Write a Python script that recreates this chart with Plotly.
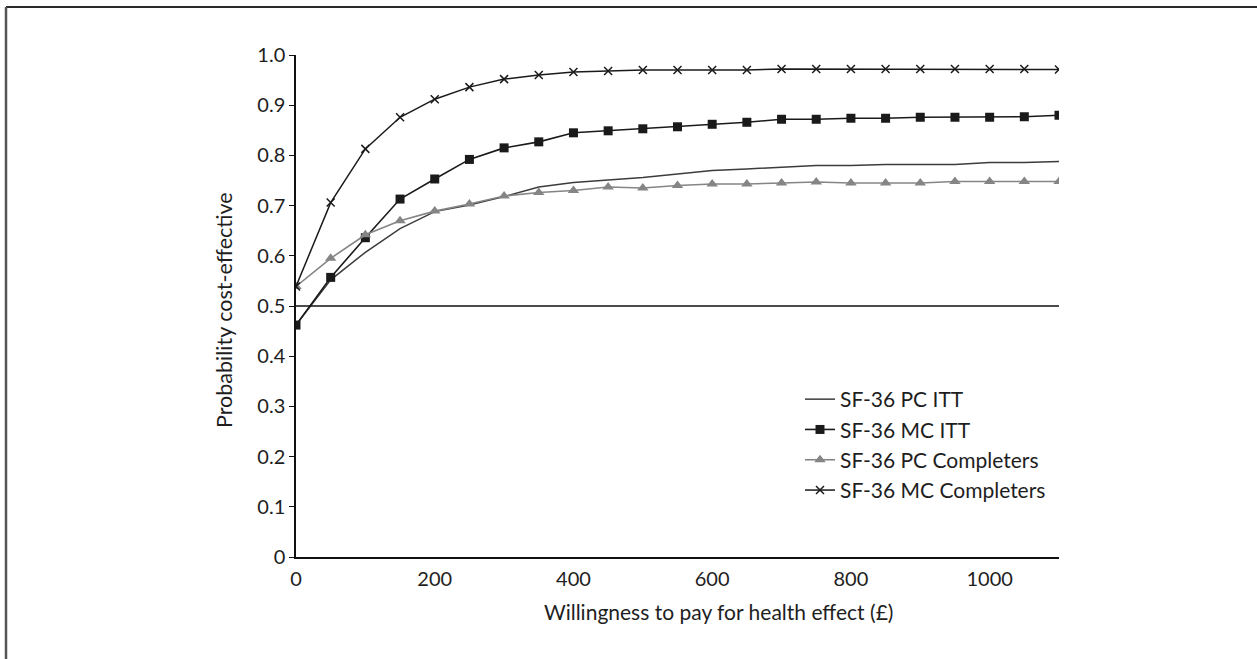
import plotly.graph_objects as go

# Willingness-to-pay thresholds (£)
wtp = [0, 50, 100, 150, 200, 250, 300, 350, 400, 450, 500, 550,
       600, 650, 700, 750, 800, 850, 900, 950, 1000, 1050, 1100]

# Probability that the intervention is cost-effective at each threshold
pc_itt = [0.462, 0.552, 0.607, 0.654, 0.688, 0.701, 0.718, 0.737, 0.746, 0.751, 0.756, 0.763,
          0.770, 0.773, 0.777, 0.780, 0.780, 0.782, 0.782, 0.782, 0.786, 0.786, 0.788]
mc_itt = [0.462, 0.557, 0.636, 0.713, 0.753, 0.792, 0.815, 0.827, 0.845, 0.849, 0.853, 0.857,
          0.862, 0.866, 0.872, 0.872, 0.874, 0.874, 0.876, 0.876, 0.876, 0.877, 0.880]
pc_completers = [0.539, 0.595, 0.642, 0.670, 0.689, 0.703, 0.719, 0.726, 0.730, 0.737, 0.735, 0.740,
                 0.743, 0.743, 0.745, 0.747, 0.745, 0.745, 0.745, 0.748, 0.748, 0.748, 0.748]
mc_completers = [0.539, 0.706, 0.813, 0.876, 0.912, 0.936, 0.952, 0.960, 0.966, 0.968, 0.970, 0.970,
                 0.970, 0.970, 0.972, 0.972, 0.972, 0.972, 0.972, 0.972, 0.972, 0.972, 0.971]

series_names = ["SF-36 PC ITT", "SF-36 MC ITT", "SF-36 PC Completers", "SF-36 MC Completers"]

threshold = 0.5

y_tickvals = [0, 0.1, 0.2, 0.3, 0.4, 0.5, 0.6, 0.7, 0.8, 0.9, 1.0]
y_ticktext = ["0", "0.1", "0.2", "0.3", "0.4", "0.5", "0.6", "0.7", "0.8", "0.9", "1.0"]
x_tickvals = [0, 200, 400, 600, 800, 1000]

x_title = "Willingness to pay for health effect (£)"
y_title = "Probability cost-effective"

FONT = "Lato, 'Open Sans', sans-serif"
TEXT = "#1e1e1e"
W, H = 1257, 659
L, R, T, B = 296, 198, 55, 102

fig = go.Figure()

fig.add_trace(go.Scatter(
    x=wtp, y=pc_itt, name=series_names[0], mode="lines",
    line=dict(color="#3c3c3c", width=1.5),
))
fig.add_trace(go.Scatter(
    x=wtp, y=mc_itt, name=series_names[1], mode="lines+markers",
    line=dict(color="#1a1a1a", width=1.6),
    marker=dict(symbol="square", size=9, color="#1a1a1a"),
))
fig.add_trace(go.Scatter(
    x=wtp, y=pc_completers, name=series_names[2], mode="lines+markers",
    line=dict(color="#858585", width=1.6),
    marker=dict(symbol="triangle-up", size=10, color="#858585"),
))
fig.add_trace(go.Scatter(
    x=wtp, y=mc_completers, name=series_names[3], mode="lines+markers",
    line=dict(color="#1a1a1a", width=1.5),
    marker=dict(symbol="x-thin", size=8, color="#1a1a1a",
                line=dict(color="#1a1a1a", width=1.5)),
))

# 0.5 reference line across the plotting range
fig.add_shape(type="line", xref="x", yref="y", x0=wtp[0], x1=wtp[-1],
              y0=threshold, y1=threshold, line=dict(color="#111111", width=1.5))

# Outer frame (top and left edges)
px = lambda p: (p - L) / (W - L - R)
py = lambda p: (H - B - p) / (H - T - B)
fig.add_shape(type="line", xref="paper", yref="paper", x0=px(6), x1=px(1300),
              y0=py(7), y1=py(7), line=dict(color="#2a2a2a", width=2))
fig.add_shape(type="line", xref="paper", yref="paper", x0=px(6), x1=px(6),
              y0=py(7), y1=py(700), line=dict(color="#555555", width=2.5))

fig.add_annotation(text=x_title, xref="paper", yref="paper",
                   x=px(718), y=py(611), showarrow=False,
                   font=dict(family=FONT, size=21, color=TEXT),
                   xanchor="center", yanchor="middle")
fig.add_annotation(text=y_title, xref="paper", yref="paper",
                   x=px(224), y=py(310), showarrow=False, textangle=-90,
                   font=dict(family=FONT, size=21.5, color=TEXT),
                   xanchor="center", yanchor="middle")

fig.update_layout(
    width=W, height=H,
    margin=dict(l=L, r=R, t=T, b=B),
    paper_bgcolor="white", plot_bgcolor="white",
    font=dict(family=FONT, size=20, color=TEXT),
    showlegend=True,
    legend=dict(x=px(800), y=py(379), xanchor="left", yanchor="top",
                bgcolor="rgba(0,0,0,0)", traceorder="normal", itemwidth=30,
                font=dict(family=FONT, size=21, color=TEXT)),
    xaxis=dict(range=[0, 1100], tickvals=x_tickvals, showgrid=False, zeroline=False,
               showline=True, linecolor="#111111", linewidth=1.5, ticks="",
               ticklabelstandoff=3, tickfont=dict(family=FONT, size=20, color=TEXT)),
    yaxis=dict(range=[0, 1], tickvals=y_tickvals, ticktext=y_ticktext, showgrid=False,
               zeroline=False, showline=True, linecolor="#111111", linewidth=1.5,
               ticks="outside", ticklen=5, tickcolor="#111111", tickwidth=1,
               tickfont=dict(family=FONT, size=20, color=TEXT)),
)

fig.write_html("out.html")
